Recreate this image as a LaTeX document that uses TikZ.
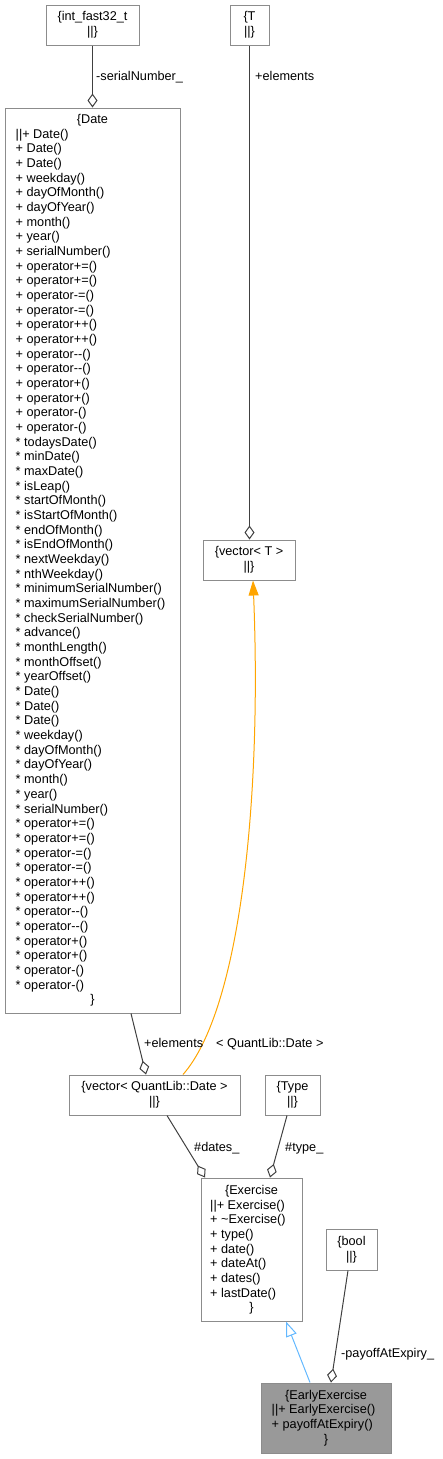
\documentclass[tikz,border=0pt]{standalone}
\usepackage{fontspec}
\newfontfamily\dotfont{Liberation Sans}
\usetikzlibrary{arrows.meta,calc}
\begin{document}
\begin{tikzpicture}[x=1pt, y=-1pt,
  every node/.style={font=\dotfont\fontsize{12.7}{14.67}\selectfont},
  cls/.style={draw=boxline, line width=1pt, fill=white, align=center, inner sep=0pt},
  txt/.style={inner sep=0pt, text height=9pt, text depth=0pt},
  member/.style={txt, anchor=west},
  lbl/.style={txt, anchor=west},
  uses/.style={draw=edgeline, line width=1pt, -{Diamond[open, length=14pt, width=10pt]}},
  inherit/.style={draw=inhcolor, line width=1pt, -{Triangle[open, length=15pt, width=11pt]}},
  inst/.style={draw=instcolor, line width=1pt, -{Triangle[length=15pt, width=10pt]}}]
\definecolor{boxline}{HTML}{8C8C8C}
\definecolor{edgeline}{HTML}{404040}
\definecolor{earlyfill}{HTML}{999999}
\definecolor{inhcolor}{HTML}{63B8FF}
\definecolor{instcolor}{HTML}{FFA500}
\useasboundingbox (0,0) rectangle (442,1459);
% Boxes
\node[cls, minimum width=93, minimum height=40] (intfast) at (92.5,25) {\{int\_fast32\_t\\||\}};
\node[cls, minimum width=39, minimum height=40] (tparam) at (249.5,25) {\{T\\||\}};
\node[cls, minimum width=175, minimum height=905] (date) at (92.5,560.5) {};
\node[cls, minimum width=92, minimum height=40] (vect) at (249,560) {\{vector< T >\\||\}};
\node[cls, minimum width=171, minimum height=40] (vecdate) at (154.5,1095) {\{vector< QuantLib::Date >\\||\}};
\node[cls, minimum width=55, minimum height=40] (type) at (292.5,1095) {\{Type\\||\}};
\node[cls, minimum width=101, minimum height=143] (exercise) at (251.5,1249.5) {};
\node[cls, minimum width=51, minimum height=41] (bool) at (351.5,1249.5) {\{bool\\||\}};
\node[cls, fill=earlyfill, minimum width=130, minimum height=70] (early) at (326,1418) {};
% Date members
\node[txt] (date-head) at ($(date.north)+(0,11.5)$) {\{Date};
\foreach \m [count=\i] in {
  ||+ Date(), + Date(), + Date(), + weekday(), + dayOfMonth(), + dayOfYear(),
  + month(), + year(), + serialNumber(),
  + operator+=(), + operator+=(), + operator-=(), + operator-=(),
  + operator++(), + operator++(), + operator-{}-(), + operator-{}-(),
  + operator+(), + operator+(), + operator-(), + operator-(),
  * todaysDate(), * minDate(), * maxDate(), * isLeap(), * startOfMonth(),
  * isStartOfMonth(), * endOfMonth(), * isEndOfMonth(), * nextWeekday(),
  * nthWeekday(), * minimumSerialNumber(), * maximumSerialNumber(),
  * checkSerialNumber(), * advance(), * monthLength(), * monthOffset(),
  * yearOffset(), * Date(), * Date(), * Date(), * weekday(), * dayOfMonth(),
  * dayOfYear(), * month(), * year(), * serialNumber(),
  * operator+=(), * operator+=(), * operator-=(), * operator-=(),
  * operator++(), * operator++(), * operator-{}-(), * operator-{}-(),
  * operator+(), * operator+(), * operator-(), * operator-()%
} {
  \node[member] (date-\i) at ($(date.north west)+(11,{11.5+\i*14.67})$) {\m};
}
\node[txt] (date-tail) at ($(date.north)+(0,{11.5+60*14.67})$) {\}};
% Exercise members
\node[txt] (ex-head) at ($(exercise.north)+(0,12.5)$) {\{Exercise};
\foreach \m [count=\i] in {||+ Exercise(), + \textasciitilde Exercise(), + type(),
  + date(), + dateAt(), + dates(), + lastDate()} {
  \node[member] (ex-\i) at ($(exercise.north west)+(9.5,{12.5+\i*14.67})$) {\m};
}
\node[txt] (ex-tail) at ($(exercise.north)+(0,{12.5+8*14.67})$) {\}};
% EarlyExercise members
\node[txt] (early-head) at ($(early.north)+(0,12)$) {\{EarlyExercise};
\node[member] (early-1) at ($(early.north west)+(11,{12+14.67})$) {||+ EarlyExercise()};
\node[member] (early-2) at ($(early.north west)+(11,{12+2*14.67})$) {+ payoffAtExpiry()};
\node[txt] (early-tail) at ($(early.north)+(0,{12+3*14.67})$) {\}};
% Connectors
\draw[uses] (intfast) -- (intfast |- date.north);
\draw[uses] (tparam) -- (tparam |- vect.north);
\draw[uses] ([xshift=38.5pt]date.south) -- ([xshift=-8.5pt]vecdate.north);
\draw[inst] ([xshift=28.5pt]vecdate.north) .. controls (240,1010) and (262,800) .. ([xshift=4pt]vect.south);
\draw[uses] ([xshift=12.5pt]vecdate.south) -- ([xshift=-46.5pt]exercise.north);
\draw[uses] ([xshift=-5.5pt]type.south) -- ([xshift=18.5pt]exercise.north);
\draw[inherit] ([xshift=-16pt]early.north) -- ([xshift=34.5pt]exercise.south);
\draw[uses] ([xshift=-3.5pt]bool.south) -- ([xshift=5pt]early.north);
% Labels
\node[lbl] (l-serial) at (96,76) {-serialNumber\_};
\node[lbl] (l-elemt) at (255,76) {+elements};
\node[lbl] (l-elemd) at (144,1043) {+elements};
\node[lbl] (l-qdate) at (216,1043) {< QuantLib::Date >};
\node[lbl] (l-dates) at (194,1147) {\#dates\_};
\node[lbl] (l-type) at (285,1147) {\#type\_};
\node[lbl] (l-payoff) at (341,1353) {-payoffAtExpiry\_};
\end{tikzpicture}
\end{document}
